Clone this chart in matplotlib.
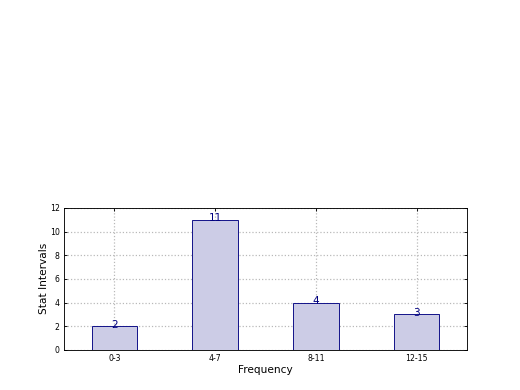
import matplotlib
matplotlib.use("Agg")
import matplotlib.pyplot as plt

categories = ["0-3", "4-7", "8-11", "12-15"]
counts = [2, 11, 4, 3]

fig = plt.figure(figsize=(6.5, 4.875), dpi=80)
ax = fig.add_axes([0.123, 0.103, 0.775, 0.364])

pos = range(len(categories))
ax.bar(pos, counts, width=0.45, color=(0.8, 0.8, 0.9), edgecolor="navy", linewidth=0.8, zorder=2)
for x, c in zip(pos, counts):
    ax.text(x, c - 0.3, str(c), ha="center", va="bottom", color="navy", fontsize=9.5, zorder=3)

ax.set_xlim(-0.5, 3.5)
ax.set_ylim(0, 12)
ax.set_xticks(list(pos))
ax.set_xticklabels(categories)
ax.set_yticks(range(0, 13, 2))
ax.tick_params(direction="in", labelsize=7, top=True, right=True, length=3, pad=4)
ax.grid(True, linestyle=":", color="#b8b8b8", linewidth=1.1, zorder=0)
ax.set_axisbelow(True)

ax.set_xlabel("Frequency", fontsize=9.5, labelpad=2)
ax.set_ylabel("Stat Intervals", fontsize=9.5, labelpad=1)

fig.savefig("out.png", dpi=80)
